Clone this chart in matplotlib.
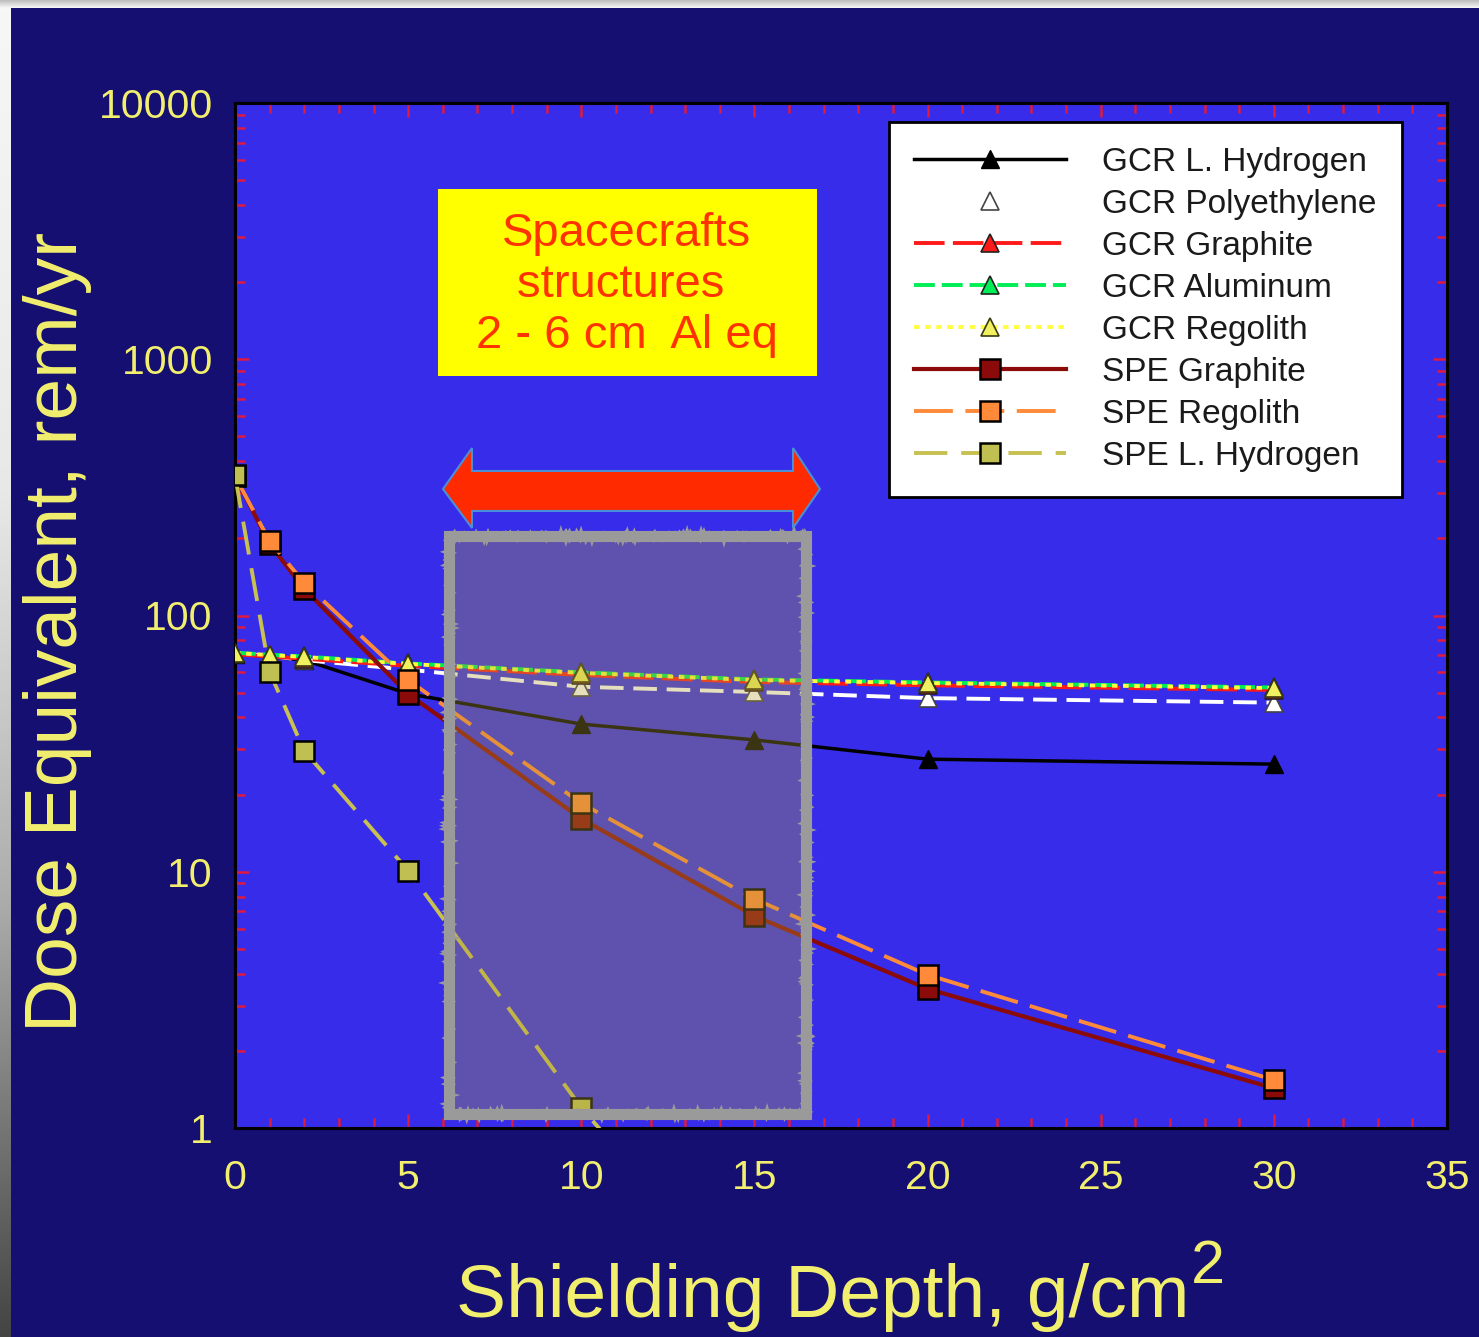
import numpy as np
import matplotlib
matplotlib.use("Agg")
import matplotlib.pyplot as plt
from matplotlib.lines import Line2D
from matplotlib.patches import Rectangle, Polygon
from matplotlib.transforms import blended_transform_factory
from matplotlib.ticker import MultipleLocator, LogLocator, NullFormatter

plt.rcParams['font.family'] = ['Liberation Sans', 'DejaVu Sans']
plt.rcParams['lines.scale_dashes'] = False

# Shielding depth (g/cm^2) and dose equivalent (rem/yr)
depth = [0, 1, 2, 5, 10, 15, 20, 30]
gcr_lh2 = [71.0, 69.0, 67.0, 49.5, 37.7, 32.7, 27.5, 26.3]
gcr_poly = [71.4, 69.5, 67.0, 61.5, 52.7, 50.3, 47.6, 45.7]
gcr_graphite = [70.6, 69.2, 67.8, 63.6, 58.6, 55.0, 53.4, 51.2]
gcr_aluminum = [71.6, 70.3, 69.2, 65.0, 60.0, 56.3, 54.8, 52.4]
gcr_regolith = [71.4, 70.1, 68.9, 64.7, 59.7, 56.0, 54.5, 52.1]
spe_graphite = [350, 190, 127, 49.4, 16.1, 6.72, 3.49, 1.43]
spe_regolith = [350, 195, 134, 56.0, 18.5, 7.83, 3.96, 1.54]
depth_spe_lh2 = [0, 1, 2, 5, 10, 15]
spe_lh2 = [353, 60.2, 29.6, 10.1, 1.2, 0.2]

x_ticks = [0, 5, 10, 15, 20, 25, 30, 35]
y_ticks = [1, 10, 100, 1000, 10000]
y_tick_labels = ['1', '10', '100', '1000', '10000']

NAVY = '#140f70'
PANEL = '#372ce9'
YELLOW_TXT = '#f2ef6e'
TICK_RED = '#e01a3c'

fig = plt.figure(figsize=(14.79, 13.37), dpi=100, facecolor=NAVY)

# slide frame strips along the top and left edges
W, H = 1479, 1337
ax_l = fig.add_axes([0, 0, 11 / W, 1])
grad_l = np.interp(np.linspace(0, 1, 200), [0, 0.37, 0.67, 1.0], [0.97, 0.91, 0.68, 0.27])
ax_l.imshow(np.dstack([grad_l, grad_l, grad_l]).reshape(200, 1, 3).repeat(4, axis=1),
            aspect='auto', extent=[0, 1, 0, 1])
ax_l.axis('off')
ax_t = fig.add_axes([0, 1 - 8 / H, 1, 8 / H])
grad_t = np.linspace(0.74, 0.97, 20)
ax_t.imshow(np.dstack([grad_t, grad_t, grad_t]).reshape(20, 1, 3).repeat(4, axis=1),
            aspect='auto', extent=[0, 1, 0, 1])
ax_t.axis('off')

ax = fig.add_axes([235 / W, 1 - 1128 / H, (1447 - 235) / W, (1128 - 103) / H])
ax.set_facecolor(PANEL)
ax.set_yscale('log')
ax.set_xlim(0, 35)
ax.set_ylim(1, 10000)

lw = 2.8
l_lh2, = ax.plot(depth, gcr_lh2, color='black', lw=2.5, marker='^', ms=13,
                 mfc='black', mec='black', label='GCR L. Hydrogen', zorder=3)
l_poly, = ax.plot(depth, gcr_poly, color='white', lw=lw, dashes=(17, 7), marker='^', ms=13,
                  mfc='white', mec='#444444', mew=1.2, label='GCR Polyethylene', zorder=3)
l_gra, = ax.plot(depth, gcr_graphite, color='#ff1a1a', lw=lw, dashes=(22, 6), marker='^', ms=13,
                 mfc='#ff1a1a', mec='#222222', mew=1.2, label='GCR Graphite', zorder=3)
l_al, = ax.plot(depth, gcr_aluminum, color='#00ee55', lw=lw, dashes=(15, 5), marker='^', ms=13,
                mfc='#00ee55', mec='#222222', mew=1.2, label='GCR Aluminum', zorder=3)
l_reg, = ax.plot(depth, gcr_regolith, color='#ffff40', lw=lw, dashes=(4, 4), marker='^', ms=13,
                 mfc='#f0f060', mec='#3a3a10', mew=1.2, label='GCR Regolith', zorder=3)
l_sg, = ax.plot(depth, spe_graphite, color='#8b0a0a', lw=3.0, marker='s', ms=14,
                mfc='#8b0a0a', mec='black', mew=1.8, label='SPE Graphite', zorder=3)
l_sr, = ax.plot(depth, spe_regolith, color='#ff8a3a', lw=lw, dashes=(28, 9), marker='s', ms=14,
                mfc='#ff8a3a', mec='black', mew=1.8, label='SPE Regolith', zorder=3)
l_sl, = ax.plot(depth_spe_lh2, spe_lh2, color='#c8c050', lw=lw, dashes=(24, 10), marker='s', ms=14,
                mfc='#c0bf52', mec='black', mew=1.8, label='SPE L. Hydrogen', zorder=3)

# ticks
ax.set_xticks(x_ticks)
ax.set_xticklabels([str(v) for v in x_ticks])
ax.xaxis.set_minor_locator(MultipleLocator(1))
ax.set_yticks(y_ticks)
ax.set_yticklabels(y_tick_labels)
ax.yaxis.set_minor_locator(LogLocator(base=10, subs=np.arange(2, 10)))
ax.yaxis.set_minor_formatter(NullFormatter())
ax.tick_params(which='both', direction='in', top=True, right=True,
               color=TICK_RED, labelcolor=YELLOW_TXT, width=1.8)
ax.tick_params(which='major', length=10, labelsize=29.5)
ax.tick_params(which='minor', length=7)
ax.tick_params(axis='x', which='major', pad=22)
ax.tick_params(axis='y', which='major', pad=16)
for s in ax.spines.values():
    s.set_color('black')
    s.set_linewidth(2.2)

# highlighted shielding band (data x, axes-fraction y)
bt = blended_transform_factory(ax.transData, ax.transAxes)
band = Rectangle((6.18, 0.0137), 16.49 - 6.18, 0.5776 - 0.0137, transform=bt,
                 facecolor=(179 / 255, 160 / 255, 55 / 255, 0.33),
                 edgecolor='#9a9a9a', lw=8, zorder=5, joinstyle='miter')
ax.add_patch(band)
rough = Rectangle((6.18, 0.0137), 16.49 - 6.18, 0.5776 - 0.0137, transform=bt,
                  facecolor='none', edgecolor='#9a9a9a', lw=4, zorder=5)
rough.set_sketch_params(scale=1.8, length=4, randomness=10)
ax.add_patch(rough)

# double-headed arrow across the band
arrow_pts = [(6.006, 0.6234), (6.844, 0.6634), (6.844, 0.641), (16.114, 0.641),
             (16.114, 0.6634), (16.893, 0.6234), (16.114, 0.5854), (16.114, 0.602),
             (6.844, 0.602), (6.844, 0.5854)]
ax.add_patch(Polygon(arrow_pts, closed=True, transform=bt, facecolor='#ff2a00',
                     edgecolor='#4a8fd8', lw=1.5, zorder=6))

# annotation box
box = Rectangle((0.1675, 0.7337), 0.4802 - 0.1675, 0.9161 - 0.7337,
                transform=ax.transAxes, facecolor='#ffff00', edgecolor='none', zorder=6)
ax.add_patch(box)
ax.text((627 - 235) / 1212, 0.8224, 'Spacecrafts\nstructures \n2 - 6 cm  Al eq',
        transform=ax.transAxes, ha='center', va='center', color='#ff3300',
        fontsize=34, linespacing=1.2, zorder=7)

# legend
handles = [l_lh2,
           Line2D([], [], ls='none', marker='^', ms=13, mfc='white', mec='#444444', mew=1.2),
           l_gra, l_al, l_reg, l_sg, l_sr, l_sl]
labels = ['GCR L. Hydrogen', 'GCR Polyethylene', 'GCR Graphite', 'GCR Aluminum',
          'GCR Regolith', 'SPE Graphite', 'SPE Regolith', 'SPE L. Hydrogen']
leg = ax.legend(handles, labels, loc='upper left', bbox_to_anchor=(0.5396, 0.9815),
                borderaxespad=0, fontsize=24, handlelength=4.55, handletextpad=1.1,
                borderpad=0.75, labelspacing=0.33, numpoints=1, fancybox=False,
                framealpha=1, facecolor='white', edgecolor='black')
leg.get_frame().set_linewidth(2)
leg.set_zorder(10)
for t in leg.get_texts():
    t.set_color('#1a1a1a')

# axis titles
fig.text(58 / W, 1 - 632 / H, 'Dose Equivalent, rem/yr', rotation=90, ha='center',
         va='center', fontsize=54, color=YELLOW_TXT)
fig.text(1190 / W, 1 - 1317 / H, 'Shielding Depth, g/cm', ha='right',
         va='baseline', fontsize=54, color=YELLOW_TXT)
fig.text(1191 / W, 1 - 1283 / H, '2', ha='left', va='baseline', fontsize=44,
         color=YELLOW_TXT)

fig.savefig('out.png', dpi=100, facecolor=NAVY)
